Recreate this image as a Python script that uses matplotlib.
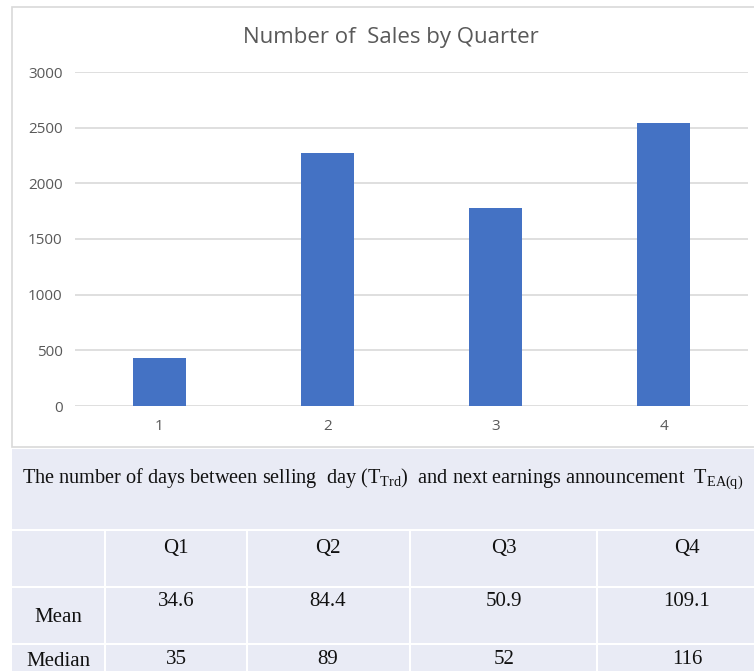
import matplotlib
matplotlib.use("Agg")
from matplotlib import pyplot as plt
from matplotlib.patches import Rectangle

# chart data
quarters = [1, 2, 3, 4]
sales = [431, 2270, 1781, 2540]
y_ticks = [0, 500, 1000, 1500, 2000, 2500, 3000]

# table data
table_title = (r"The number of days between selling  day (T$_{\mathrm{Trd}}$)  "
               r"and next earnings announcement  T$_{\mathrm{EA(q)}}$")
col_labels = ["Q1", "Q2", "Q3", "Q4"]
row_labels = ["Mean", "Median"]
mean_days = ["34.6", "84.4", "50.9", "109.1"]
median_days = ["35", "89", "52", "116"]

W, H = 754, 671
GREY = "#595959"
INK = "#111111"
plt.rcParams["mathtext.fontset"] = "custom"
plt.rcParams["mathtext.rm"] = "Liberation Serif"


def main():
    fig = plt.figure(figsize=(W / 100, H / 100), dpi=100)
    fig.patch.set_facecolor("white")

    # background layer in pixel coordinates
    bg = fig.add_axes([0, 0, 1, 1])
    bg.set_xlim(0, W)
    bg.set_ylim(H, 0)
    bg.axis("off")
    bg.add_patch(Rectangle((12, 7), 760, 440, facecolor="white",
                           edgecolor="#d9d9d9", lw=1.2))
    bg.add_patch(Rectangle((12, 449), 760, 230, facecolor="#e9ebf5",
                           edgecolor="none"))

    # table grid
    for y in [530, 587, 644]:
        bg.plot([12, W], [y, y], color="white", lw=1.5)
    for x in [105, 247, 410, 597]:
        bg.plot([x, x], [530, H], color="white", lw=1.5)

    serif = "Liberation Serif"
    bg.text(22, 479, table_title, fontsize=14.6, family=serif,
            color=INK, va="center", ha="left")
    col_x = [176, 328, 504, 687]
    for x, lab in zip(col_x, col_labels):
        bg.text(x, 548, lab, fontsize=15, family=serif, color=INK,
                ha="center", va="center")
    for x, v in zip(col_x, mean_days):
        bg.text(x, 602, v, fontsize=15, family=serif, color=INK,
                ha="center", va="center")
    for x, v in zip(col_x, median_days):
        bg.text(x, 660, v, fontsize=15, family=serif, color=INK,
                ha="center", va="center")
    bg.text(58, 618, row_labels[0], fontsize=15, family=serif,
            color=INK, ha="center", va="center")
    bg.text(58, 661, row_labels[1], fontsize=15, family=serif,
            color=INK, ha="center", va="center")

    # bar chart
    ax = fig.add_axes([75 / W, (H - 406) / H, (748 - 75) / W, 334 / H])
    ax.bar(quarters, sales, width=0.315, color="#4472c4", zorder=3)
    ax.set_xlim(0.5, 4.5)
    ax.set_ylim(0, 3000)
    ax.set_yticks(y_ticks)
    ax.set_xticks(quarters)
    ax.grid(axis="y", color="#d9d9d9", lw=1.2, zorder=0)
    for s in ax.spines.values():
        s.set_visible(False)
    ax.tick_params(length=0, labelsize=11, labelcolor=GREY)
    ax.tick_params(axis="y", pad=9)
    ax.tick_params(axis="x", pad=9)
    ax.set_facecolor("none")
    for lab in ax.get_xticklabels() + ax.get_yticklabels():
        lab.set_family("Open Sans")
    fig.text(391 / W, 1 - 37 / H, "Number of  Sales by Quarter",
             fontsize=16, color=GREY, family="Open Sans",
             ha="center", va="center")

    fig.savefig("out.png", dpi=100)


if __name__ == '__main__':
    main()
